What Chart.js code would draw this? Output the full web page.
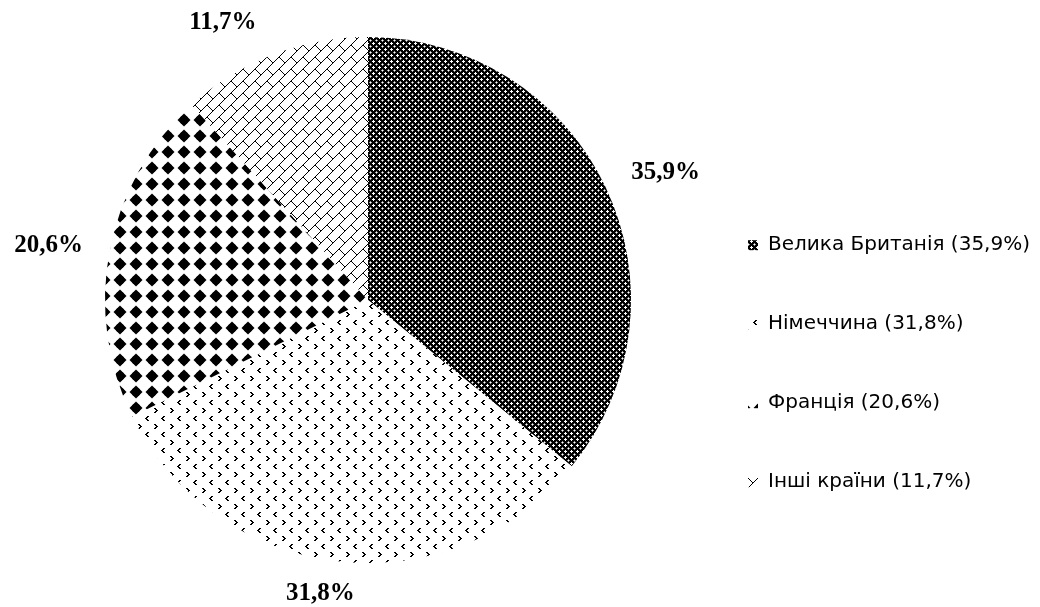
<!DOCTYPE html>
<html>
<head>
<meta charset="utf-8">
<script src="https://cdn.jsdelivr.net/npm/chart.js@4.4.1/dist/chart.umd.min.js"></script>
<style>
  html, body { margin: 0; background: #fff; }
  #wrap { position: relative; width: 1040px; height: 607px; }
</style>
</head>
<body>
<div id="wrap"><canvas id="pie"></canvas></div>
<script>
// chart data
const countries = ['Велика Британія', 'Німеччина', 'Франція', 'Інші країни'];
const shares = [35.9, 31.8, 20.6, 11.7];

// small shifts of the outside value labels (px), like Excel placed them
const labelNudge = [[13, 8], [-12, -19], [-10, 5], [-32, 17]];

const fmt = v => v.toFixed(1).replace('.', ',');

// tile helper: draw on a small canvas, return a pattern
function makePattern(w, h, draw) {
  const c = document.createElement('canvas');
  c.width = w; c.height = h;
  const g = c.getContext('2d');
  g.fillStyle = '#fff';
  g.fillRect(0, 0, w, h);
  draw(g, w, h);
  return g.createPattern(c, 'repeat');
}

// dense dark weave (Велика Британія)
const pUK = makePattern(6, 6, g => {
  g.fillStyle = '#000';
  g.fillRect(0, 0, 6, 6);
  g.fillStyle = '#fff';
  [[1,0],[0,1],[1,1],[2,1],[1,2],[4,4]].forEach(([x, y]) => g.fillRect(x, y, 1, 1));
  g.fillStyle = '#9a9a9a';
  [[4,3],[3,4],[5,4],[4,5]].forEach(([x, y]) => g.fillRect(x, y, 1, 1));
});

// sparse < > marks (Німеччина)
const pDE = makePattern(16, 16, g => {
  g.fillStyle = '#000';
  [[3,0],[2,1],[1,2],[2,3],[3,4]].forEach(([x, y]) => g.fillRect(x, y, 2, 1));
  [[10,8],[11,9],[12,10],[11,11],[10,12]].forEach(([x, y]) => g.fillRect(x, y, 2, 1));
});

// black rounded diamonds (Франція)
const pFR = makePattern(16, 16, g => {
  g.fillStyle = '#000';
  g.beginPath();
  g.moveTo(8, 1.5);
  g.lineTo(14.5, 8);
  g.lineTo(8, 14.5);
  g.lineTo(1.5, 8);
  g.closePath();
  g.fill();
  g.beginPath();
  g.arc(8, 8, 4.5, 0, Math.PI * 2);
  g.fill();
});

// diagonal brick lattice (Інші країни)
const pOther = makePattern(24, 24, g => {
  g.strokeStyle = '#000';
  g.lineWidth = 1;
  g.beginPath();
  for (let c = 0; c <= 48; c += 12) { g.moveTo(-2, c + 2); g.lineTo(c + 2, -2); }
  const segs = [[3, 9], [15, -3], [3, 21], [15, 9]];
  for (let ox = -24; ox <= 24; ox += 24) {
    for (let oy = -24; oy <= 24; oy += 24) {
      segs.forEach(([x, y]) => { g.moveTo(x + ox, y + oy); g.lineTo(x + ox + 6, y + oy + 6); });
    }
  }
  g.stroke();
});

const valueLabels = {
  id: 'valueLabels',
  afterDatasetsDraw(chart) {
    const ctx = chart.ctx;
    const meta = chart.getDatasetMeta(0);
    ctx.save();
    ctx.font = 'bold 25px "Liberation Serif", "Times New Roman", serif';
    ctx.fillStyle = '#000';
    ctx.textAlign = 'center';
    ctx.textBaseline = 'middle';
    meta.data.forEach((arc, i) => {
      const p = arc.getProps(['x', 'y', 'startAngle', 'endAngle', 'outerRadius'], true);
      const mid = (p.startAngle + p.endAngle) / 2;
      const r = p.outerRadius + 52;
      const [dx, dy] = labelNudge[i];
      ctx.fillText(fmt(shares[i]) + '%', p.x + Math.cos(mid) * r + dx, p.y + Math.sin(mid) * r + dy);
    });
    ctx.restore();
  }
};

new Chart(document.getElementById('pie'), {
  type: 'pie',
  data: {
    labels: countries.map((c, i) => `${c} (${fmt(shares[i])}%)`),
    datasets: [{
      data: shares,
      backgroundColor: [pUK, pDE, pFR, pOther],
      borderWidth: 0
    }]
  },
  options: {
    responsive: true,
    maintainAspectRatio: false,
    animation: false,
    layout: { padding: { left: 47, top: 37, bottom: 44, right: 0 } },
    plugins: {
      legend: {
        position: 'right',
        align: 'center',
        // empty title only pushes the list down to where it sits in the original
        title: { display: true, text: '', padding: { top: 0, bottom: 113 } },
        labels: {
          boxWidth: 10,
          boxHeight: 10,
          padding: 59,
          color: '#000',
          font: { family: '"DejaVu Sans", sans-serif', size: 20 }
        }
      },
      tooltip: { enabled: false }
    }
  },
  plugins: [valueLabels]
});
</script>
</body>
</html>
